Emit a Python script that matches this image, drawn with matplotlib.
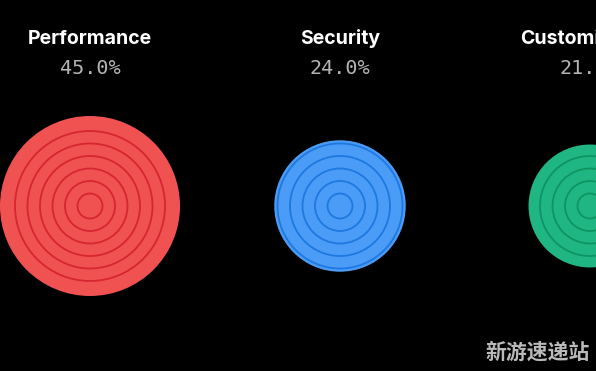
import numpy as np
import matplotlib.pyplot as plt
from matplotlib.patches import Circle

categories = ['Performance', 'Security', 'Customization']
shares = [45.0, 24.0, 21.0]
fill_colors = ['#F05252', '#4A9CF6', '#1FB683']
ring_colors = ['#D6262F', '#1F78E0', '#0E9462']

W, H = 596, 371
fig = plt.figure(figsize=(W / 100, H / 100), dpi=100, facecolor='black')
ax = fig.add_axes([0, 0, 1, 1])
ax.set_facecolor('black')
ax.set_xlim(0, W)
ax.set_ylim(H, 0)
ax.set_aspect('equal')
ax.axis('off')

x0, dx, cy = 90, 250, 206
scale = 90 / np.sqrt(max(shares))
ring_step = 12.5

for i, (name, s) in enumerate(zip(categories, shares)):
    cx = x0 + i * dx
    r = scale * np.sqrt(s)
    ax.add_patch(Circle((cx, cy), r, facecolor=fill_colors[i], edgecolor='none'))
    k = 1
    while k * ring_step < r - 3:
        ax.add_patch(Circle((cx, cy), k * ring_step, facecolor='none',
                            edgecolor=ring_colors[i], linewidth=1.3))
        k += 1
    ax.text(cx, 44, name, ha='center', va='baseline', color='white',
            fontsize=14, fontweight='bold', family='Inter')
    ax.text(cx, 74, f'{s:.1f}%', ha='center', va='baseline', color='#B4B4B4',
            fontsize=14.5, family='DejaVu Sans Mono')

# watermark
ax.text(538, 352, '新游速递站', ha='center', va='center', color='#CFCFCF',
        fontsize=15, fontweight='bold', family=['Noto Sans CJK SC', 'DejaVu Sans'],
        alpha=0.9)

fig.savefig('out.png', dpi=100, facecolor='black')
